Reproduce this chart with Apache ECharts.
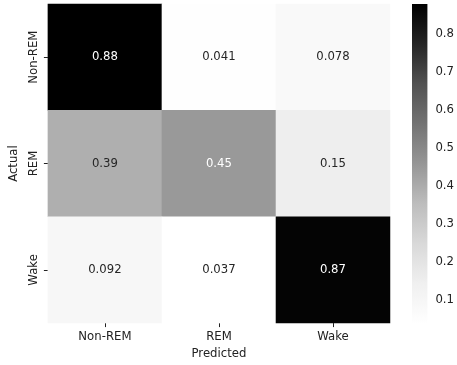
<!DOCTYPE html>
<html>
<head>
<meta charset="utf-8">
<script src="https://cdn.jsdelivr.net/npm/echarts@6/dist/echarts.min.js"></script>
<style>html,body{margin:0;padding:0;background:#fff}#c{width:457px;height:365px}</style>
</head>
<body>
<div id="c"></div>
<script>
const predictedLabels = ['Non-REM', 'REM', 'Wake'];
const actualLabels = ['Non-REM', 'REM', 'Wake'];
const rowNonREM = [0.88, 0.041, 0.078];
const rowREM = [0.39, 0.45, 0.15];
const rowWake = [0.092, 0.037, 0.87];
const colorbarTicks = [0.1, 0.2, 0.3, 0.4, 0.5, 0.6, 0.7, 0.8];
const greys = ['#ffffff', '#f0f0f0', '#d9d9d9', '#bdbdbd', '#969696', '#737373', '#525252', '#252525', '#000000'];

const rows = [rowNonREM, rowREM, rowWake];
const all = rows.flat();
const VMIN = Math.min(...all);
const VMAX = Math.max(...all);
const FONT = 'DejaVu Sans';
const FS = 11.7;
const TXT = '#222222';

const data = [];
rows.forEach((r, yi) => r.forEach((v, xi) => {
  const norm = (v - VMIN) / (VMAX - VMIN);
  data.push({ value: [xi, yi, v], label: { color: norm > 0.45 ? '#ffffff' : '#262626' } });
}));

const chart = echarts.init(document.getElementById('c'), null, { renderer: 'canvas' });
chart.setOption({
  animation: false,
  backgroundColor: '#ffffff',
  textStyle: { fontFamily: FONT },
  grid: [
    { left: 47, top: 4, width: 343, height: 320 },
    { left: 412, top: 4, width: 16, height: 320 }
  ],
  xAxis: [
    {
      type: 'category', gridIndex: 0, data: predictedLabels,
      name: 'Predicted', nameLocation: 'middle', nameGap: 23,
      nameTextStyle: { fontFamily: FONT, fontSize: FS, color: TXT },
      axisLine: { show: false },
      axisTick: { show: true, alignWithLabel: true, length: 4, lineStyle: { color: TXT } },
      axisLabel: { fontFamily: FONT, fontSize: FS, color: TXT, margin: 8 },
      splitLine: { show: false }
    },
    { type: 'value', gridIndex: 1, min: 0, max: 1, show: false }
  ],
  yAxis: [
    {
      type: 'category', gridIndex: 0, data: actualLabels, inverse: true,
      name: 'Actual', nameLocation: 'middle', nameGap: 27,
      nameTextStyle: { fontFamily: FONT, fontSize: FS, color: TXT },
      axisLine: { show: false },
      axisTick: { show: true, alignWithLabel: true, length: 4, lineStyle: { color: TXT } },
      axisLabel: { fontFamily: FONT, fontSize: FS, color: TXT, margin: 8, rotate: 90 },
      splitLine: { show: false }
    },
    {
      type: 'value', gridIndex: 1, min: VMIN, max: VMAX, position: 'right',
      axisLine: { show: false },
      axisTick: { show: true, length: 4, lineStyle: { color: TXT }, customValues: colorbarTicks },
      axisLabel: { fontFamily: FONT, fontSize: FS, color: TXT, margin: 8, customValues: colorbarTicks,
        formatter: v => v.toFixed(1) },
      splitLine: { show: false }
    }
  ],
  visualMap: {
    show: false, type: 'continuous', min: VMIN, max: VMAX, dimension: 2, seriesIndex: 0,
    inRange: { color: greys }
  },
  series: [
    {
      type: 'heatmap', xAxisIndex: 0, yAxisIndex: 0, data: data,
      label: { show: true, fontFamily: FONT, fontSize: FS, formatter: p => String(p.value[2]) },
      itemStyle: { borderWidth: 0 },
      emphasis: { disabled: true }
    },
    {
      type: 'custom', xAxisIndex: 1, yAxisIndex: 1, silent: true,
      data: [[0, VMIN, VMAX]],
      renderItem: (params, api) => {
        const top = api.coord([0, api.value(2)]);
        const bot = api.coord([1, api.value(1)]);
        const stops = greys.slice().reverse().map((c, i) => ({ offset: i / (greys.length - 1), color: c }));
        return {
          type: 'rect',
          shape: { x: top[0], y: top[1], width: bot[0] - top[0], height: bot[1] - top[1] },
          style: { fill: new echarts.graphic.LinearGradient(0, 0, 0, 1, stops) }
        };
      }
    }
  ]
});
</script>
</body>
</html>
